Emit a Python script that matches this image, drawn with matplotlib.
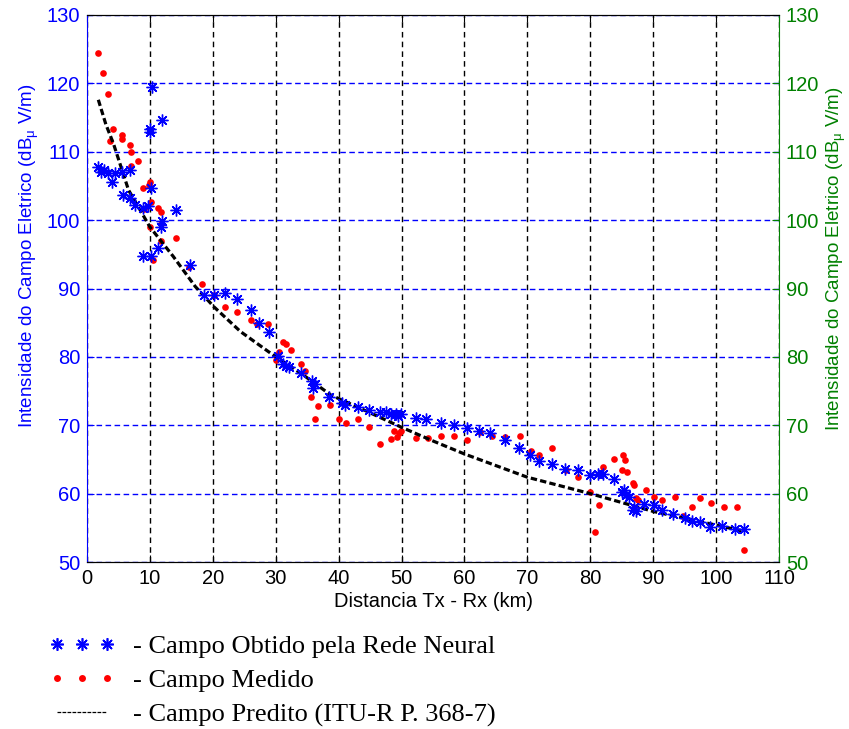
import matplotlib
matplotlib.use('Agg')
import matplotlib.pyplot as plt
import numpy as np

# Campo obtido pela rede neural (asteriscos azuis)
dist_rede = [1.8, 2.3, 2.7, 3.3, 3.9, 4.4, 5.5, 6.8, 5.7, 6.8, 7.6, 8.9, 9.7,
             10.2, 14.2, 11.8, 12.0, 11.3, 8.9, 10.2, 16.4, 10.0, 10.0, 10.4, 12.0,
             18.6, 20.2, 22.0, 23.9, 26.0, 27.3, 28.9, 30.3, 31.1, 31.6, 32.1,
             34.0, 35.7, 36.0, 36.3, 38.5, 40.5, 41.0, 43.0, 44.9, 46.5, 47.5,
             48.3, 49.1, 49.5, 49.9, 52.3, 53.9, 56.2, 58.3, 60.4, 62.3, 64.1,
             66.5, 68.6, 70.4, 71.8, 73.9, 76.0, 78.1, 80.0, 81.3, 82.1, 83.7,
             85.0, 85.3, 85.6, 86.1, 86.8, 87.0, 87.3, 88.5, 90.1, 91.4, 93.2,
             95.1, 96.1, 97.5, 99.1, 100.9, 103.0, 104.4]
campo_rede = [107.8, 107.1, 107.3, 106.9, 105.6, 106.9, 107.1, 107.3, 103.7, 103.2,
              102.2, 101.8, 102.0, 104.7, 101.5, 99.0, 99.8, 95.9, 94.7, 94.7, 93.5,
              112.9, 113.4, 119.5, 114.6,
              89.0, 89.0, 89.3, 88.5, 86.8, 84.9, 83.7, 80.2, 79.0, 78.7, 78.5,
              77.6, 76.5, 75.5, 76.0, 74.1, 73.2, 73.0, 72.7, 72.2, 72.0, 71.9,
              71.6, 71.6, 71.4, 71.6, 71.1, 70.9, 70.4, 70.1, 69.6, 69.1, 68.8,
              67.9, 66.7, 65.7, 64.8, 64.3, 63.6, 63.4, 62.7, 62.8, 62.8, 62.1,
              60.2, 60.6, 59.8, 59.5, 57.6, 58.0, 57.4, 58.5, 58.4, 57.6, 57.0,
              56.5, 56.0, 55.8, 55.1, 55.3, 54.8, 54.8]

# Campo medido (pontos vermelhos)
dist_medido = [1.8, 2.5, 3.3, 3.7, 4.2, 5.5, 5.5, 6.8, 7.0, 8.1, 7.0, 10.0, 9.9,
               8.9, 10.2, 11.3, 11.8, 9.0, 11.8, 10.0, 11.8, 14.2, 10.5, 16.2,
               18.3, 20.2, 22.0, 23.9, 26.0, 27.1, 28.7, 30.5, 31.1, 31.7, 32.4,
               30.0, 34.0, 34.7, 35.6, 36.7, 38.7, 36.2, 40.0, 41.1, 43.1, 44.8,
               46.5, 48.3, 48.8, 49.3, 49.6, 49.9, 52.3, 54.2, 56.2, 58.3, 60.4,
               62.4, 64.3, 66.5, 68.9, 70.6, 71.8, 73.9, 76.1, 78.1, 80.0, 81.4,
               80.8, 82.1, 83.7, 85.2, 85.5, 85.0, 85.9, 86.8, 87.0, 87.3, 87.6,
               88.9, 90.1, 91.4, 93.4, 94.7, 96.2, 97.5, 99.2, 101.3, 103.3, 104.4]
campo_medido = [124.4, 121.5, 118.4, 111.5, 113.3, 112.5, 111.8, 111.0, 110.0, 108.6,
                107.9, 105.6, 105.2, 104.7, 102.6, 101.8, 101.2, 101.6, 99.5, 99.0,
                97.0, 97.4, 94.2, 93.2,
                90.6, 89.0, 87.3, 86.6, 85.4, 84.8, 84.8, 80.7, 82.2, 81.9, 81.0,
                79.5, 78.9, 78.0, 74.1, 72.8, 73.0, 70.9, 70.9, 70.4, 70.9, 69.7,
                67.2, 68.0, 69.2, 68.3, 68.9, 69.2, 68.2, 68.1, 68.4, 68.4, 67.8,
                69.0, 68.4, 68.3, 68.4, 66.2, 65.6, 66.6, 63.4, 62.4, 60.2, 58.3,
                54.4, 63.9, 65.1, 65.6, 64.9, 63.4, 63.1, 61.6, 61.2, 59.3, 59.1,
                60.6, 59.5, 59.0, 59.5, 56.8, 58.0, 59.3, 58.6, 58.0, 58.1, 51.8]

# Campo predito ITU-R P. 368-7 (curva tracejada)
dist_predito = [1.8, 3.0, 4.2, 6.6, 10.0, 13.7, 17.2, 20.2, 24.4, 30.0, 34.0,
                38.8, 44.1, 50.0, 55.0, 60.0, 65.0, 70.0, 75.0, 80.0, 85.0, 90.0,
                95.0, 100.0, 104.4]
campo_predito = [117.6, 114.0, 111.2, 104.4, 99.0, 94.7, 90.3, 87.3, 83.7, 80.0, 77.6,
                 74.4, 72.2, 69.7, 67.7, 65.8, 64.1, 62.4, 61.2, 60.0, 58.7, 57.4,
                 56.4, 55.4, 54.5]

xticks = list(range(0, 111, 10))
yticks = list(range(50, 131, 10))

azul = '#0000ff'
verde = '#008000'

plt.rcParams['font.family'] = ['Liberation Sans', 'DejaVu Sans']
plt.rcParams['mathtext.fontset'] = 'custom'
plt.rcParams['mathtext.rm'] = 'Liberation Sans'
plt.rcParams['mathtext.it'] = 'Liberation Sans'

fig = plt.figure(figsize=(8.49, 7.29), dpi=100)
ax = fig.add_axes([87/849, 1-562/729, (779-87)/849, (562-15)/729])

ax.plot(dist_predito, campo_predito, color='black', linestyle=(0, (2.0, 1.0)),
        linewidth=2.3, zorder=3)
ax.plot(dist_medido, campo_medido, linestyle='none', marker='o', markersize=4.8,
        color='red', markeredgewidth=0, zorder=2)
ax.plot(dist_rede, campo_rede, linestyle='none', marker=(8, 2, 0), markersize=8.5,
        color=azul, markeredgewidth=1.0, zorder=4)

ax.set_xlim(0, 110)
ax.set_ylim(50, 130)
ax.set_xticks(xticks)
ax.set_yticks(yticks)

# grade: vertical preta, horizontal azul
ax.xaxis.grid(True, color='black', linestyle=(0, (4, 3)), linewidth=1.0)
ax.yaxis.grid(True, color=azul, linestyle=(0, (4, 2.5)), linewidth=1.0)
ax.set_axisbelow(True)

ax.tick_params(axis='both', direction='in', length=5, labelsize=14.5, pad=5)
ax.tick_params(axis='x', top=True, colors='black')
ax.tick_params(axis='y', colors=azul)
ax.spines['left'].set_color(azul)
ax.spines['right'].set_visible(False)
ax.set_xlabel('Distancia Tx - Rx (km)', fontsize=14.5, labelpad=3)
ax.set_ylabel(r'Intensidade do Campo Eletrico (dB$_{\mu}$ V/m)', color=azul,
              fontsize=13.5)
ax.yaxis.set_label_coords(-0.067, 0.56)

ax2 = ax.twinx()
ax2.set_ylim(50, 130)
ax2.set_yticks(yticks)
ax2.tick_params(axis='y', direction='in', length=5, colors=verde, labelsize=14.5, pad=5)
ax2.spines['right'].set_color(verde)
ax2.spines['left'].set_visible(False)
ax2.set_ylabel(r'Intensidade do Campo Eletrico (dB$_{\mu}$ V/m)', color=verde,
               fontsize=13.5)
ax2.yaxis.set_label_coords(1.066, 0.555)

# legenda abaixo do grafico
h1, = ax.plot([], [], linestyle='none', marker=(8, 2, 0), markersize=9,
              color=azul, markeredgewidth=1.2)
h2, = ax.plot([], [], linestyle='none', marker='o', markersize=5, color='red',
              markeredgewidth=0)
h3, = ax.plot([], [], color='black', linestyle=(0, (3, 1)), linewidth=0.9)
fig.legend([h1, h2, h3],
           ['- Campo Obtido pela Rede Neural', '- Campo Medido',
            '- Campo Predito (ITU-R P. 368-7)'],
           loc='upper left', bbox_to_anchor=(25/849, 1-611/729), frameon=False,
           numpoints=3, handlelength=2.5, handletextpad=0.7, labelspacing=0.4,
           prop={'family': 'Liberation Serif', 'size': 19})

fig.savefig('out.png', dpi=100)
